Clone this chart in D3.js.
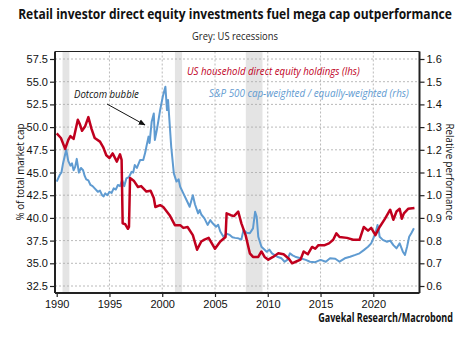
<!DOCTYPE html>
<html>
<head>
<meta charset="utf-8">
<script src="https://cdn.jsdelivr.net/npm/d3@7"></script>
<style>
  body { margin: 0; background: #fff; }
  svg { display: block; font-family: "Open Sans", "Noto Sans", sans-serif; }
</style>
</head>
<body>
<svg id="chart" width="461" height="339"></svg>
<script>
// US household direct equity holdings, % of total market cap (left axis)
const redYears = [1990.0,1990.4,1990.8,1991.1,1991.3,1991.6,1992.0,1992.2,1992.4,1992.7,1993.0,1993.3,1993.6,1994.1,1994.4,1994.7,1995.0,1995.3,1995.7,1996.0,1996.15,1996.25,1996.5,1996.75,1996.85,1996.95,1997.3,1997.7,1998.0,1998.5,1998.9,1999.2,1999.35,1999.8,2000.1,2000.7,2001.2,2001.7,2002.0,2002.4,2002.9,2003.3,2003.7,2004.0,2004.4,2005.0,2005.5,2006.0,2006.1,2006.5,2006.8,2007.2,2007.5,2007.9,2008.3,2008.6,2009.1,2009.4,2009.7,2010.05,2010.5,2011.0,2011.5,2012.0,2012.3,2012.7,2013.1,2013.4,2013.8,2014.2,2014.5,2014.8,2015.4,2015.8,2016.2,2016.5,2016.8,2017.5,2018.1,2018.7,2019.1,2019.5,2019.8,2020.2,2020.6,2021.1,2021.6,2021.9,2022.2,2022.5,2022.7,2022.9,2023.3,2023.9];
const redValues = [49.3,48.8,47.6,48.6,49.0,48.7,50.8,50.3,49.6,50.1,51.1,49.8,48.8,48.4,47.8,46.9,46.6,47.1,46.2,47.0,46.4,39.4,39.3,38.8,39.0,44.4,44.1,43.4,43.5,42.9,43.0,42.2,41.2,41.4,41.2,40.3,39.2,39.2,38.9,39.0,38.1,36.5,37.4,37.6,37.8,36.6,37.4,37.9,40.5,40.3,40.2,40.7,39.4,38.1,36.1,35.7,35.7,36.3,35.7,35.4,35.7,36.1,36.0,35.5,35.0,35.2,35.4,36.3,36.0,36.8,36.6,37.0,37.0,37.2,37.6,38.3,37.9,37.8,37.6,37.6,39.0,38.6,38.9,38.1,39.0,39.9,40.9,39.8,40.7,41.0,39.9,40.5,41.0,41.1];

// S&P 500 cap-weighted / equally-weighted ratio (right axis)
const blueYears = [1990.0,1990.15,1990.3,1990.45,1990.6,1990.9,1991.1,1991.3,1991.45,1991.6,1991.75,1991.9,1992.1,1992.3,1992.5,1992.65,1992.8,1993.0,1993.2,1993.4,1993.6,1993.9,1994.1,1994.3,1994.45,1994.6,1994.8,1995.0,1995.2,1995.4,1995.6,1995.8,1996.0,1996.2,1996.4,1996.6,1996.85,1997.1,1997.25,1997.4,1997.6,1997.9,1998.2,1998.4,1998.5,1998.7,1998.8,1999.0,1999.2,1999.3,1999.5,1999.8,2000.05,2000.3,2000.45,2000.55,2000.7,2000.85,2001.1,2001.35,2001.55,2001.7,2002.0,2002.3,2002.6,2002.9,2003.1,2003.4,2003.55,2003.7,2004.0,2004.3,2004.55,2004.8,2005.1,2005.3,2005.5,2005.8,2006.1,2006.4,2006.65,2006.9,2007.2,2007.5,2007.7,2008.0,2008.3,2008.6,2008.8,2008.95,2009.1,2009.4,2009.9,2010.15,2010.4,2010.9,2011.3,2011.6,2011.85,2012.1,2012.35,2012.6,2013.1,2013.6,2014.0,2014.5,2015.0,2015.5,2015.9,2016.4,2016.8,2017.3,2017.8,2018.3,2018.7,2019.1,2019.5,2019.8,2020.2,2020.4,2020.5,2020.6,2020.9,2021.3,2021.6,2021.9,2022.2,2022.5,2022.8,2023.0,2023.2,2023.4,2023.6,2023.85];
const blueValues = [1.06,1.075,1.09,1.10,1.14,1.20,1.15,1.13,1.14,1.11,1.125,1.16,1.10,1.12,1.11,1.085,1.07,1.065,1.045,1.04,1.03,1.015,1.02,1.0,0.995,1.008,1.0,1.015,1.01,1.03,1.025,1.045,1.04,1.067,1.04,1.074,1.08,1.103,1.10,1.133,1.12,1.155,1.155,1.19,1.214,1.258,1.23,1.324,1.36,1.243,1.29,1.375,1.434,1.478,1.375,1.419,1.317,1.214,1.096,1.06,1.07,1.037,1.008,0.979,0.949,1.0,0.96,0.92,0.935,0.915,0.898,0.869,0.89,0.875,0.861,0.87,0.84,0.817,0.83,0.825,0.815,0.812,0.81,0.805,0.847,0.835,0.832,0.854,0.927,0.905,0.817,0.773,0.751,0.76,0.744,0.729,0.722,0.707,0.715,0.744,0.735,0.729,0.722,0.715,0.707,0.705,0.715,0.707,0.722,0.72,0.707,0.722,0.729,0.737,0.744,0.758,0.773,0.788,0.832,0.869,0.85,0.817,0.803,0.795,0.80,0.78,0.766,0.788,0.751,0.737,0.773,0.817,0.832,0.854];

// US recessions (start, end)
const recessionStarts = [1990.55, 2001.2, 2007.92];
const recessionEnds = [1991.2, 2001.88, 2009.5];

// Axis ticks
const leftTicks = [32.5,35.0,37.5,40.0,42.5,45.0,47.5,50.0,52.5,55.0,57.5];
const rightTicks = [0.6,0.7,0.8,0.9,1.0,1.1,1.2,1.3,1.4,1.5,1.6];
const yearTicks = [1990,1995,2000,2005,2010,2015,2020];

const red = "#c0001e";
const blue = "#5f9bd1";

const svg = d3.select("#chart");

// plot frame
const frame = { left: 55, right: 419.5, top: 51.5, bottom: 293 };

const x = d3.scaleLinear().domain([1990, 2020]).range([56.7, 373.3]);
const yL = d3.scaleLinear().domain([32.5, 57.5]).range([286, 59]);
const yR = d3.scaleLinear().domain([0.6, 1.6]).range([286, 59]);

// Places a label at (px, py) with the given rotation and squeezes it
// horizontally so that it spans `width` pixels (narrow-font look).
function label(text, px, py, width, opts) {
  const g = svg.append("g");
  const t = g.append("text")
    .attr("font-size", opts.size)
    .attr("font-weight", opts.weight || 400)
    .attr("font-style", opts.italic ? "italic" : "normal")
    .attr("fill", opts.fill || "#111")
    .attr("text-anchor", opts.anchor || "start")
    .text(text);
  const natural = t.node().getComputedTextLength();
  const sx = Math.min(1, width / natural);
  g.attr("transform", `translate(${px},${py}) rotate(${opts.rotate || 0}) scale(${sx},1)`);
  return g;
}

// recession bands
svg.append("g").selectAll("rect")
  .data(recessionStarts.map((s, i) => [s, recessionEnds[i]]))
  .join("rect")
  .attr("x", d => x(d[0]))
  .attr("width", d => x(d[1]) - x(d[0]))
  .attr("y", frame.top)
  .attr("height", frame.bottom - frame.top)
  .attr("fill", "#e4e4e4");

// gridlines
const grid = svg.append("g").attr("stroke", "#a8a8a8").attr("stroke-width", 0.8).attr("stroke-dasharray", "2,2");
grid.selectAll(".h").data(leftTicks).join("line")
  .attr("x1", frame.left).attr("x2", frame.right)
  .attr("y1", d => yL(d)).attr("y2", d => yL(d));
grid.selectAll(".v").data(yearTicks.slice(1)).join("line")
  .attr("y1", frame.top).attr("y2", frame.bottom)
  .attr("x1", d => x(d)).attr("x2", d => x(d));

// series lines
const redLine = d3.line().x((d, i) => x(redYears[i])).y(d => yL(d));
const blueLine = d3.line().x((d, i) => x(blueYears[i])).y(d => yR(d));

svg.append("path").datum(blueValues).attr("d", blueLine)
  .attr("fill", "none").attr("stroke", blue).attr("stroke-width", 2).attr("stroke-linejoin", "round");
svg.append("path").datum(redValues).attr("d", redLine)
  .attr("fill", "none").attr("stroke", red).attr("stroke-width", 2.5).attr("stroke-linejoin", "round");

// frame box
svg.append("line").attr("x1", frame.left).attr("x2", frame.right)
  .attr("y1", frame.top).attr("y2", frame.top).attr("stroke", "#222").attr("stroke-width", 1.2);
svg.append("line").attr("x1", frame.left).attr("x2", frame.left)
  .attr("y1", frame.top).attr("y2", frame.bottom).attr("stroke", "#222").attr("stroke-width", 2);
svg.append("line").attr("x1", frame.right).attr("x2", frame.right)
  .attr("y1", frame.top).attr("y2", frame.bottom).attr("stroke", "#222").attr("stroke-width", 2);
svg.append("line").attr("x1", frame.left).attr("x2", frame.right)
  .attr("y1", frame.bottom).attr("y2", frame.bottom).attr("stroke", "#222").attr("stroke-width", 2);

// axes
const fmt1 = d3.format(".1f");
const leftAxis = d3.axisLeft(yL).tickValues(leftTicks).tickFormat(fmt1).tickSize(5).tickPadding(2);
const rightAxis = d3.axisRight(yR).tickValues(rightTicks).tickFormat(fmt1).tickSize(5).tickPadding(2);
const bottomAxis = d3.axisBottom(x).tickValues(yearTicks).tickFormat(d3.format("d")).tickSize(4).tickPadding(3);

function styleAxis(g) {
  g.select(".domain").remove();
  g.selectAll(".tick line").attr("stroke", "#222").attr("stroke-width", 1.2);
  g.selectAll(".tick text").attr("fill", "#111").attr("font-size", 11);
}
svg.append("g").attr("transform", `translate(${frame.left},0)`).call(leftAxis).call(styleAxis);
svg.append("g").attr("transform", `translate(${frame.right},0)`).call(rightAxis).call(styleAxis);
svg.append("g").attr("transform", `translate(0,${frame.bottom})`).call(bottomAxis).call(styleAxis);

// titles
label("Retail investor direct equity investments fuel mega cap outperformance",
  235, 19, 434, { size: 14.5, weight: 700, anchor: "middle" });
label("Grey: US recessions", 235, 40, 86, { size: 11.5, anchor: "middle", fill: "#222" });

label("% of total market cap", 24, 172, 97, { size: 11.5, anchor: "middle", rotate: -90 });
label("Relative performance", 446, 172, 97, { size: 11.5, anchor: "middle", rotate: 90 });

// legend labels
label("US household direct equity holdings (lhs)", 187, 75, 173, { size: 11.5, italic: true, fill: red });
label("S&P 500 cap-weighted / equally-weighted (rhs)", 209, 97, 200, { size: 11.5, italic: true, fill: blue });

// annotation
svg.append("defs").append("marker").attr("id", "arrowhead")
  .attr("viewBox", "0 0 10 10").attr("refX", 9).attr("refY", 5)
  .attr("markerWidth", 7).attr("markerHeight", 7).attr("orient", "auto")
  .append("path").attr("d", "M0,1 L10,5 L0,9 z").attr("fill", "#111");
label("Dotcom bubble", 74, 98, 65, { size: 11.5, italic: true });
svg.append("line").attr("x1", 107).attr("y1", 104).attr("x2", 145).attr("y2", 125)
  .attr("stroke", "#111").attr("stroke-width", 1).attr("marker-end", "url(#arrowhead)");

// source
label("Gavekal Research/Macrobond", 453, 322, 135, { size: 11.5, weight: 700, anchor: "end" });
</script>
</body>
</html>
